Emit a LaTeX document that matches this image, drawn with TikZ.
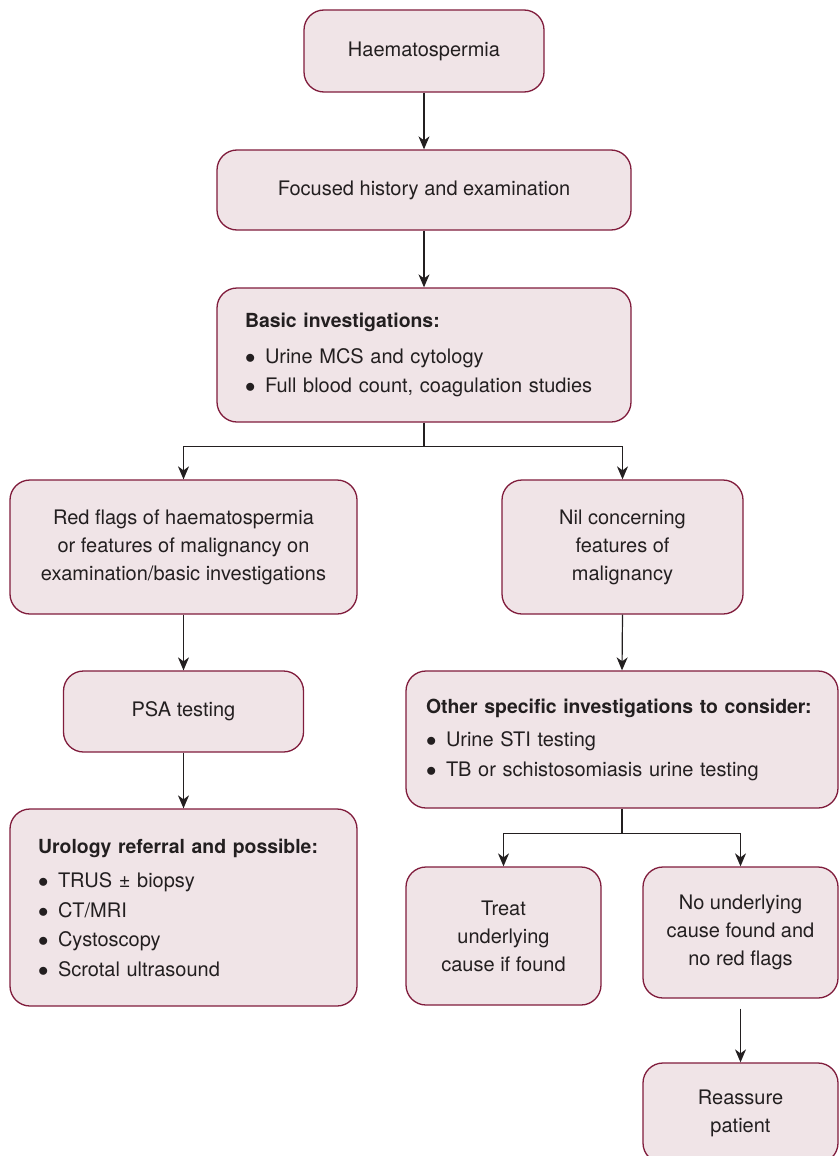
\documentclass[tikz,border=0pt]{standalone}
\usepackage{fontspec}
\setmainfont{TeX Gyre Heros}
\usetikzlibrary{arrows.meta}
\definecolor{bord}{RGB}{128,28,60}
\definecolor{bfill}{RGB}{240,228,231}
\definecolor{ink}{RGB}{35,31,32}
\newcommand{\bul}{\makebox[20pt][l]{$\bullet$}}
\newcommand{\hd}[1]{\mbox{\fontsize{19.4}{29.5}\selectfont\bfseries #1}}
\tikzset{
  fbox/.style={draw=bord, fill=bfill, rounded corners=20pt, line width=1.3pt,
    inner sep=0pt, align=center, text=ink, font=\fontsize{20}{28}\selectfont},
  lbox/.style={fbox, align=left, font=\fontsize{20}{29.5}\selectfont},
  conn/.style={draw=ink, line width=1.2pt},
  arr/.style={conn, -{Stealth[length=13pt,width=11pt,inset=4pt]}}
}
\begin{document}
\begin{tikzpicture}[x=1pt,y=-1pt]
\clip (0,0) rectangle (839,1156);
\node[fbox, minimum width=240pt, minimum height=82pt] (haem) at (424,51) {Haematospermia};
\node[fbox, minimum width=414pt, minimum height=80pt] (focus) at (424,190) {Focused history and examination};
\node[lbox, minimum width=414pt, minimum height=134pt, text width=358pt] (basic) at (424,355)
  {\hd{Basic investigations:}\\[6pt]
   \bul Urine MCS and cytology\\
   \bul Full blood count, coagulation studies};
\node[fbox, minimum width=347pt, minimum height=134pt] (red) at (183.5,547)
  {Red flags of haematospermia\\ or features of malignancy on\\ examination/basic investigations};
\node[fbox, minimum width=241pt, minimum height=134pt] (nil) at (622.5,547)
  {Nil concerning\\ features of\\ malignancy};
\node[fbox, minimum width=240pt, minimum height=81pt] (psa) at (183.5,711.5) {PSA testing};
\node[lbox, minimum width=347pt, minimum height=197pt, text width=291pt] (uro) at (183.5,907.5)
  {\hd{Urology referral and possible:}\\[5pt]
   \bul TRUS \textpm{} biopsy\\
   \bul CT/MRI\\
   \bul Cystoscopy\\
   \bul Scrotal ultrasound};
\node[lbox, minimum width=432pt, minimum height=137pt, text width=392pt] (other) at (622,739.5)
  {\hd{Other specific investigations to consider:}\\[4pt]
   \bul Urine STI testing\\
   \bul TB or schistosomiasis urine testing};
\node[fbox, minimum width=195pt, minimum height=138pt] (treat) at (503.5,936)
  {Treat\\ underlying\\ cause if found};
\node[fbox, minimum width=195pt, minimum height=131pt] (nound) at (740.5,932.5)
  {No underlying\\ cause found and\\ no red flags};
\node[fbox, minimum width=195pt, minimum height=100pt] (reas) at (740.5,1113)
  {Reassure\\ patient};
\draw[arr] (haem.south) -- (focus.north);
\draw[arr] (focus.south) -- (basic.north);
\draw[conn] (basic.south) -- ++(0,24) coordinate (j1);
\draw[arr] (j1) -| (red.north);
\draw[arr] (j1) -| (nil.north);
\draw[arr] (red.south) -- (psa.north);
\draw[arr] (psa.south) -- (uro.north);
\draw[arr] (nil.south) -- (other.north);
\draw[conn] (other.south) -- ++(0,25) coordinate (j2);
\draw[arr] (j2) -| (treat.north);
\draw[arr] (j2) -| (nound.north);
\draw[arr, shorten <=10pt] (nound.south) -- (reas.north);
\end{tikzpicture}
\end{document}
